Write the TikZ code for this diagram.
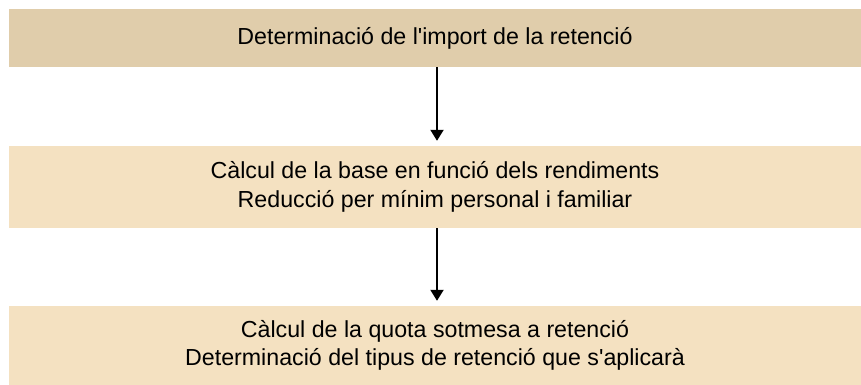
\documentclass[tikz,border=0pt]{standalone}
\usepackage{fontspec}
\setmainfont{Liberation Sans}
\usetikzlibrary{arrows.meta}

\definecolor{darkbeige}{RGB}{224,205,171}
\definecolor{lightbeige}{RGB}{244,225,193}

\tikzset{
  stepbox/.style={inner sep=0pt, minimum width=852pt, align=center,
    font=\fontsize{23.2}{28.3}\selectfont},
  flowarrow/.style={line width=2pt, shorten >=5pt,
    -{Triangle[width=13pt,length=11pt]}}
}

\begin{document}
\begin{tikzpicture}[x=1pt,y=1pt,yscale=-1]
    \useasboundingbox (0,0) rectangle (861,385);

    %Shape: Rectangle (header)
    \node [stepbox, fill=darkbeige, minimum height=58pt] (import) at (435,38)
      {Determinació de l\textquotesingle import de la retenció};

    %Shape: Rectangle (base)
    \node [stepbox, fill=lightbeige, minimum height=82pt] (base) at (435,187)
      {Càlcul de la base en funció dels rendiments\\
       Reducció per mínim personal i familiar};

    %Shape: Rectangle (quota)
    \node [stepbox, fill=lightbeige, minimum height=79pt] (quota) at (435,345.5)
      {Càlcul de la quota sotmesa a retenció\\
       Determinació del tipus de retenció que s\textquotesingle aplicarà};

    %Straight Lines
    \draw [flowarrow] ([xshift=2pt]import.south) -- ([xshift=2pt]base.north);
    %Straight Lines
    \draw [flowarrow] ([xshift=2pt]base.south) -- ([xshift=2pt]quota.north);

\end{tikzpicture}
\end{document}
